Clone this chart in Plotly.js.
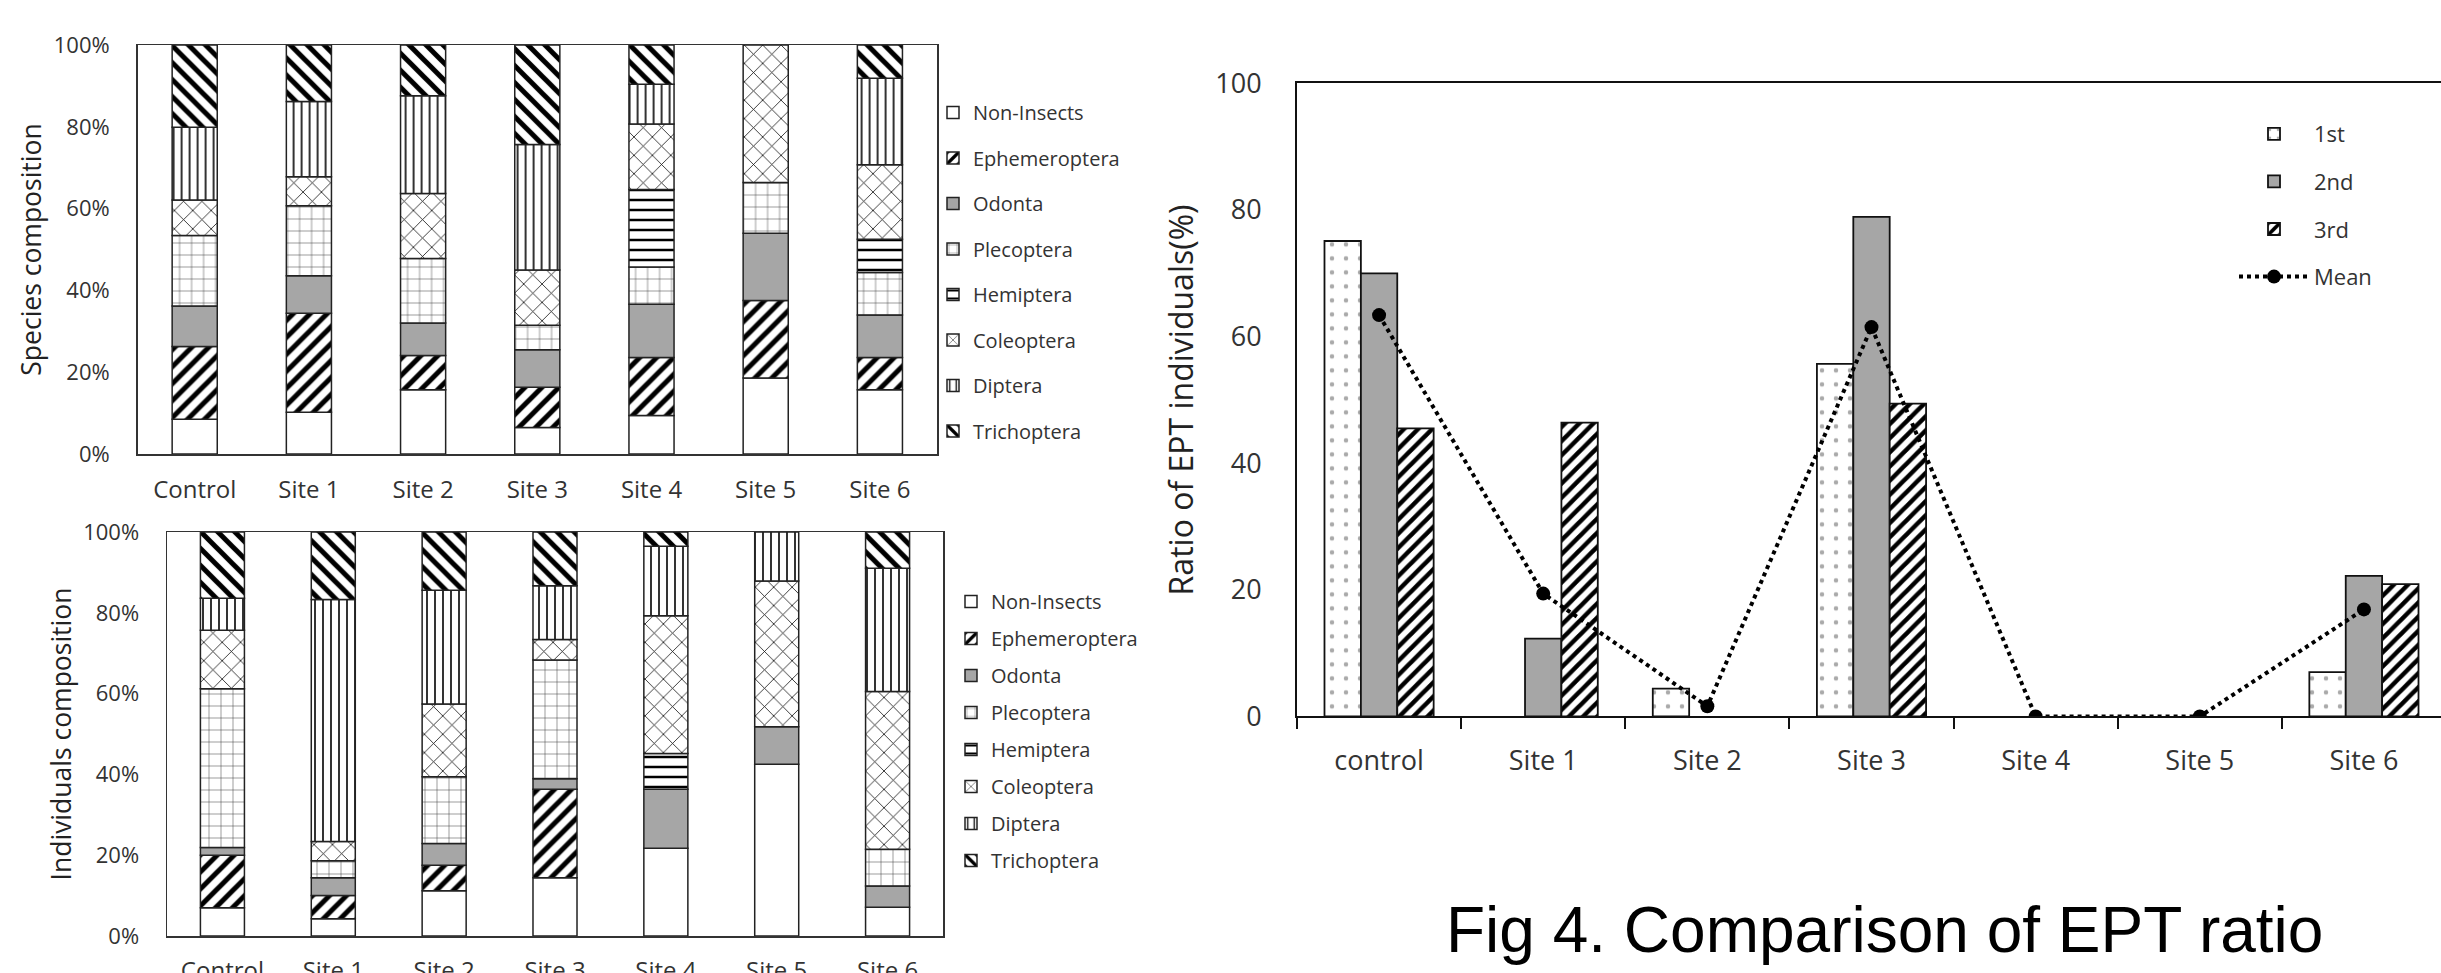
<!DOCTYPE html>
<html>
<head>
<meta charset="utf-8">
<script src="https://cdn.plot.ly/plotly-3.0.1.min.js"></script>
<style>
html,body{margin:0;padding:0;overflow:hidden;background:#fff;}
#chart{width:2450px;height:973px;}
</style>
</head>
<body>
<div id="chart"></div>
<script>
// ---------- DATA ----------
const sites = ['Control', 'Site 1', 'Site 2', 'Site 3', 'Site 4', 'Site 5', 'Site 6'];
const taxa = ['Non-Insects', 'Ephemeroptera', 'Odonta', 'Plecoptera', 'Hemiptera', 'Coleoptera', 'Diptera', 'Trichoptera'];

// Species composition (%), per taxon, per site
const spNonInsects   = [8.5, 10.2, 15.7, 6.5, 9.4, 18.6, 15.7];
const spEphemeroptera= [17.8, 24.2, 8.4, 9.8, 14.2, 18.9, 7.9];
const spOdonta       = [9.9, 9.2, 7.9, 9.2, 13.0, 16.5, 10.4];
const spPlecoptera   = [17.2, 17.1, 15.8, 6.0, 9.1, 12.4, 10.4];
const spHemiptera    = [0, 0, 0, 0, 19.0, 0, 8.1];
const spColeoptera   = [8.7, 7.1, 15.9, 13.5, 16.0, 33.6, 18.2];
const spDiptera      = [17.8, 18.4, 23.9, 30.7, 9.7, 0, 21.2];
const spTrichoptera  = [20.1, 13.8, 12.4, 24.3, 9.6, 0, 8.1];

// Individuals composition (%), per taxon, per site
const inNonInsects   = [7.0, 4.3, 11.2, 14.4, 21.7, 42.5, 7.1];
const inEphemeroptera= [13.0, 5.7, 6.3, 21.9, 0, 0, 0];
const inOdonta       = [1.9, 4.4, 5.4, 2.6, 14.6, 9.3, 5.3];
const inPlecoptera   = [39.3, 4.2, 16.5, 29.4, 0, 0, 9.1];
const inHemiptera    = [0, 0, 0, 0, 8.9, 0, 0];
const inColeoptera   = [14.5, 4.8, 18.0, 5.1, 34.1, 36.1, 39.0];
const inDiptera      = [7.9, 59.9, 28.2, 13.3, 17.2, 12.1, 30.5];
const inTrichoptera  = [16.4, 16.7, 14.4, 13.3, 3.5, 0, 9.0];

// EPT ratio (%)
const eptSites = ['control', 'Site 1', 'Site 2', 'Site 3', 'Site 4', 'Site 5', 'Site 6'];
const ept1st  = [75.1, 0, 4.4, 55.7, 0, 0, 7.0];
const ept2nd  = [70.0, 12.3, 0, 78.9, 0, 0, 22.2];
const ept3rd  = [45.5, 46.4, 0, 49.4, 0, 0, 20.9];
const eptMean = [63.4, 19.4, 1.6, 61.5, 0, 0, 16.9];

const pctTicks = [0, 20, 40, 60, 80, 100];
const pctTickText = ['0%', '20%', '40%', '60%', '80%', '100%'];
const eptTicks = [0, 20, 40, 60, 80, 100];

// ---------- STYLES ----------
const W = 2450, H = 973;
const px = v => v / W;
const py = v => 1 - v / H;

const taxonStyle = {
  'Non-Insects':   {color: 'white'},
  'Ephemeroptera': {color: 'white', pattern: {shape: '/', size: 12, solidity: 0.42, fgcolor: 'black', bgcolor: 'white'}},
  'Odonta':        {color: '#a6a6a6'},
  'Plecoptera':    {color: 'white', pattern: {shape: '+', size: 12, solidity: 0.08, fgcolor: '#333', bgcolor: 'white'}},
  'Hemiptera':     {color: 'white', pattern: {shape: '-', size: 10, solidity: 0.25, fgcolor: 'black', bgcolor: 'white'}},
  'Coleoptera':    {color: 'white', pattern: {shape: 'x', size: 13, solidity: 0.12, fgcolor: '#111', bgcolor: 'white'}},
  'Diptera':       {color: 'white', pattern: {shape: '|', size: 8, solidity: 0.2, fgcolor: 'black', bgcolor: 'white'}},
  'Trichoptera':   {color: 'white', pattern: {shape: '\\', size: 12, solidity: 0.42, fgcolor: 'black', bgcolor: 'white'}}
};

const speciesData = [spNonInsects, spEphemeroptera, spOdonta, spPlecoptera, spHemiptera, spColeoptera, spDiptera, spTrichoptera];
const indivData   = [inNonInsects, inEphemeroptera, inOdonta, inPlecoptera, inHemiptera, inColeoptera, inDiptera, inTrichoptera];

function stacked(data, xa, ya, legendId, barW) {
  const cum = sites.map(() => 0);
  return taxa.map((t, i) => {
    const vals = data[i];
    const base = cum.slice();
    vals.forEach((v, j) => { cum[j] += v; });
    return {
      type: 'bar', x: sites, y: vals.map(v => v === 0 ? null : v), base: base,
      xaxis: xa, yaxis: ya, name: t, legend: legendId, legendgroup: legendId + t,
      width: barW, offset: -barW / 2,
      marker: Object.assign({}, taxonStyle[t], {line: {color: '#222', width: 1.5}}),
      hoverinfo: 'name+y'
    };
  });
}

const traces = [].concat(
  stacked(speciesData, 'x', 'y', 'legend', 0.395),
  stacked(indivData, 'x2', 'y2', 'legend2', 0.397)
);

const eptStyle = [
  {name: '1st', data: ept1st, marker: {color: 'white', pattern: {shape: '.', size: 14, solidity: 0.08, fgcolor: '#aaa', bgcolor: 'white'}}},
  {name: '2nd', data: ept2nd, marker: {color: '#a6a6a6'}},
  {name: '3rd', data: ept3rd, marker: {color: 'white', pattern: {shape: '/', size: 10, solidity: 0.45, fgcolor: 'black', bgcolor: 'white'}}}
];
eptStyle.forEach(s => {
  traces.push({
    type: 'bar', x: eptSites, y: s.data.map(v => v === 0 ? null : v), name: s.name,
    xaxis: 'x3', yaxis: 'y3', legend: 'legend3', legendgroup: 'e' + s.name,
    marker: Object.assign({}, s.marker, {line: {color: '#111', width: 1.8}})
  });
});
traces.push({
  type: 'scatter', mode: 'lines+markers', x: eptSites, y: eptMean, name: 'Mean',
  xaxis: 'x3', yaxis: 'y3', legend: 'legend3', legendgroup: 'eMean',
  line: {color: 'black', dash: 'dot', width: 4},
  marker: {color: 'black', size: 14}
});

const leftFont = {family: 'Open Sans, sans-serif', size: 22, color: '#333'};
const frame = {showline: true, linecolor: '#333', linewidth: 1.5, mirror: true, showgrid: false, zeroline: false, automargin: false, fixedrange: true};

const layout = {
  width: W, height: H,
  margin: {l: 0, r: 0, t: 0, b: 0},
  paper_bgcolor: 'white', plot_bgcolor: 'white',
  barmode: 'group', bargap: 0.335, bargroupgap: 0,
  showlegend: true,
  font: leftFont,
  xaxis: Object.assign({}, frame, {domain: [px(137.6), px(937)], anchor: 'y', type: 'category', ticks: '', tickfont: {size: 24, color: '#333'}, ticklabelstandoff: 14}),
  yaxis: Object.assign({}, frame, {domain: [py(454), py(45)], anchor: 'x', range: [0, 100], tickmode: 'array', tickvals: pctTicks, ticktext: pctTickText, ticks: '', tickfont: {size: 22, color: '#333'}, ticklabelstandoff: 22,
    title: {text: 'Species composition', font: {size: 26.5, color: '#222'}, standoff: 4}}),
  xaxis2: Object.assign({}, frame, {domain: [px(167), px(943)], anchor: 'y2', type: 'category', ticks: '', tickfont: {size: 24, color: '#333'}, ticklabelstandoff: 13}),
  yaxis2: Object.assign({}, frame, {domain: [py(936), py(532)], anchor: 'x2', range: [0, 100], tickmode: 'array', tickvals: pctTicks, ticktext: pctTickText, ticks: '', tickfont: {size: 22, color: '#333'}, ticklabelstandoff: 22,
    title: {text: 'Individuals composition', font: {size: 26.5, color: '#222'}, standoff: 4}}),
  xaxis3: {domain: [px(1297), px(2446)], anchor: 'y3', type: 'category', showline: true, linecolor: '#111', linewidth: 2, mirror: true,
    ticks: 'outside', tickson: 'boundaries', ticklen: 11, tickwidth: 2, tickcolor: '#111', showgrid: false, zeroline: false, automargin: false,
    tickfont: {size: 27, color: '#333'}, ticklabelstandoff: 19, fixedrange: true},
  yaxis3: {domain: [py(716.4), py(83.4)], anchor: 'x3', range: [0, 100], tickvals: eptTicks, showline: true, linecolor: '#111', linewidth: 2, mirror: true,
    ticks: '', showgrid: false, zeroline: false, automargin: false, tickfont: {size: 27, color: '#333'}, ticklabelstandoff: 28, fixedrange: true,
    title: {text: 'Ratio of EPT individuals(%)', font: {size: 32, color: '#222'}, standoff: 12}},
  legend: {x: px(933), y: py(93), xanchor: 'left', yanchor: 'top', traceorder: 'grouped', tracegroupgap: 16.5,
    font: {family: 'Open Sans, sans-serif', size: 20, color: '#333'}, bgcolor: 'rgba(0,0,0,0)', itemwidth: 30},
  legend2: {x: px(951), y: py(582), xanchor: 'left', yanchor: 'top', traceorder: 'grouped', tracegroupgap: 8,
    font: {family: 'Open Sans, sans-serif', size: 20, color: '#333'}, bgcolor: 'rgba(0,0,0,0)', itemwidth: 30},
  legend3: {x: px(2234), y: py(113), xanchor: 'left', yanchor: 'top', traceorder: 'grouped', tracegroupgap: 16,
    font: {family: 'Open Sans, sans-serif', size: 22, color: '#333'}, bgcolor: 'rgba(0,0,0,0)', itemwidth: 70},
  annotations: [{
    xref: 'paper', yref: 'paper', x: px(1884), y: py(930), xanchor: 'center', yanchor: 'middle', showarrow: false,
    text: 'Fig 4. Comparison of EPT ratio', font: {family: 'Liberation Sans, Arial, sans-serif', size: 64, color: '#000'}
  }]
};

Plotly.newPlot('chart', traces, layout, {displayModeBar: false, staticPlot: true});
</script>
</body>
</html>
